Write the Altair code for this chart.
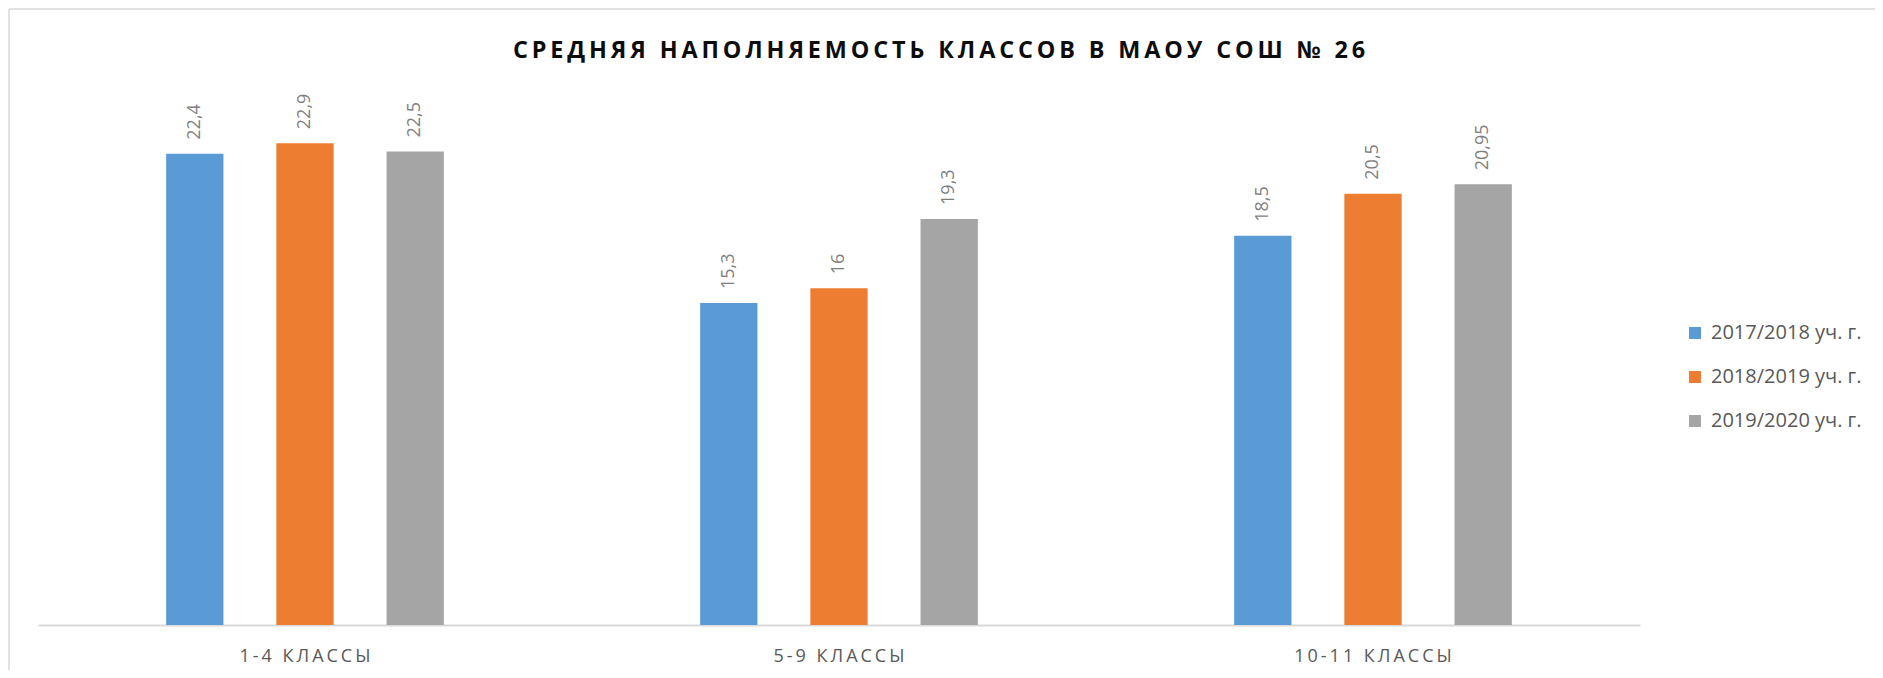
import altair as alt
import pandas as pd

categories = ["1-4 КЛАССЫ", "5-9 КЛАССЫ", "10-11 КЛАССЫ"]
years = ["2017/2018 уч. г.", "2018/2019 уч. г.", "2019/2020 уч. г."]
values_2017 = [22.4, 15.3, 18.5]
values_2018 = [22.9, 16.0, 20.5]
values_2019 = [22.5, 19.3, 20.95]
labels_2017 = ["22,4", "15,3", "18,5"]
labels_2018 = ["22,9", "16", "20,5"]
labels_2019 = ["22,5", "19,3", "20,95"]
colors = ["#5B9BD5", "#ED7D31", "#A5A5A5"]
title_text = "СРЕДНЯЯ НАПОЛНЯЕМОСТЬ КЛАССОВ В МАОУ СОШ № 26"

rows = []
for vals, labs, yr in [(values_2017, labels_2017, years[0]),
                       (values_2018, labels_2018, years[1]),
                       (values_2019, labels_2019, years[2])]:
    for c, v, l in zip(categories, vals, labs):
        rows.append({"cat": c, "year": yr, "value": v, "label": l})
df = pd.DataFrame(rows)

W, H = 1602, 526
FONT = "Open Sans"

x_enc = alt.X("cat:N", sort=categories,
              scale=alt.Scale(paddingInner=0.48, paddingOuter=0.24),
              axis=alt.Axis(title=None, ticks=False, grid=False,
                            domainColor="#D9D9D9", domainWidth=2,
                            labelColor="#595959", labelFontSize=18, labelFont=FONT,
                            labelPadding=22, labelAngle=0,
                            labelExpr="join(split(datum.label, ''), '\u2009')"))
xo_enc = alt.XOffset("year:N", sort=years,
                     scale=alt.Scale(paddingInner=0.48, paddingOuter=0))
y_enc = alt.Y("value:Q", scale=alt.Scale(domain=[0, 25]), axis=None)

bars = alt.Chart(df).mark_bar().encode(
    x=x_enc, xOffset=xo_enc, y=y_enc,
    color=alt.Color("year:N", sort=years,
                    scale=alt.Scale(domain=years, range=colors),
                    legend=alt.Legend(title=None, orient="none", legendX=1647, legendY=224,
                                      symbolType="square", symbolSize=144,
                                      symbolStrokeWidth=0, labelFontSize=20,
                                      labelFont=FONT, labelColor="#595959",
                                      labelOffset=6, rowPadding=24, padding=0))
)

texts = alt.Chart(df).mark_text(angle=270, align="left", baseline="middle",
                                dx=14, fontSize=18, font=FONT, color="#7F7F7F").encode(
    x=x_enc, xOffset=xo_enc, y=y_enc, text="label:N"
)

title_df = pd.DataFrame({"t": [title_text]})
title_mark = alt.Chart(title_df).transform_calculate(
    ts="join(split(datum.t, ''), '\u2009')"
).mark_text(font=FONT, fontSize=23.4, fontWeight="bold", color="#0D0D0D",
            align="center", baseline="middle").encode(
    x=alt.value(901), y=alt.value(-48), text="ts:N")

border_left = alt.Chart(title_df).mark_rule(color="#D9D9D9", strokeWidth=1.5).encode(
    x=alt.value(-29), y=alt.value(-90), y2=alt.value(700))
border_top = alt.Chart(title_df).mark_rule(color="#D9D9D9", strokeWidth=1.5).encode(
    x=alt.value(-29), x2=alt.value(1900), y=alt.value(-90))

chart = alt.layer(border_left, border_top, bars, texts, title_mark).properties(
    width=W, height=H,
    background="white",
    autosize=alt.AutoSizeParams(type="none"),
    padding={"left": 30, "top": 91, "right": 235, "bottom": 45},
).configure_view(strokeWidth=0, stroke="transparent")

chart.save("out.html", embed_options={"renderer": "svg", "actions": False})
